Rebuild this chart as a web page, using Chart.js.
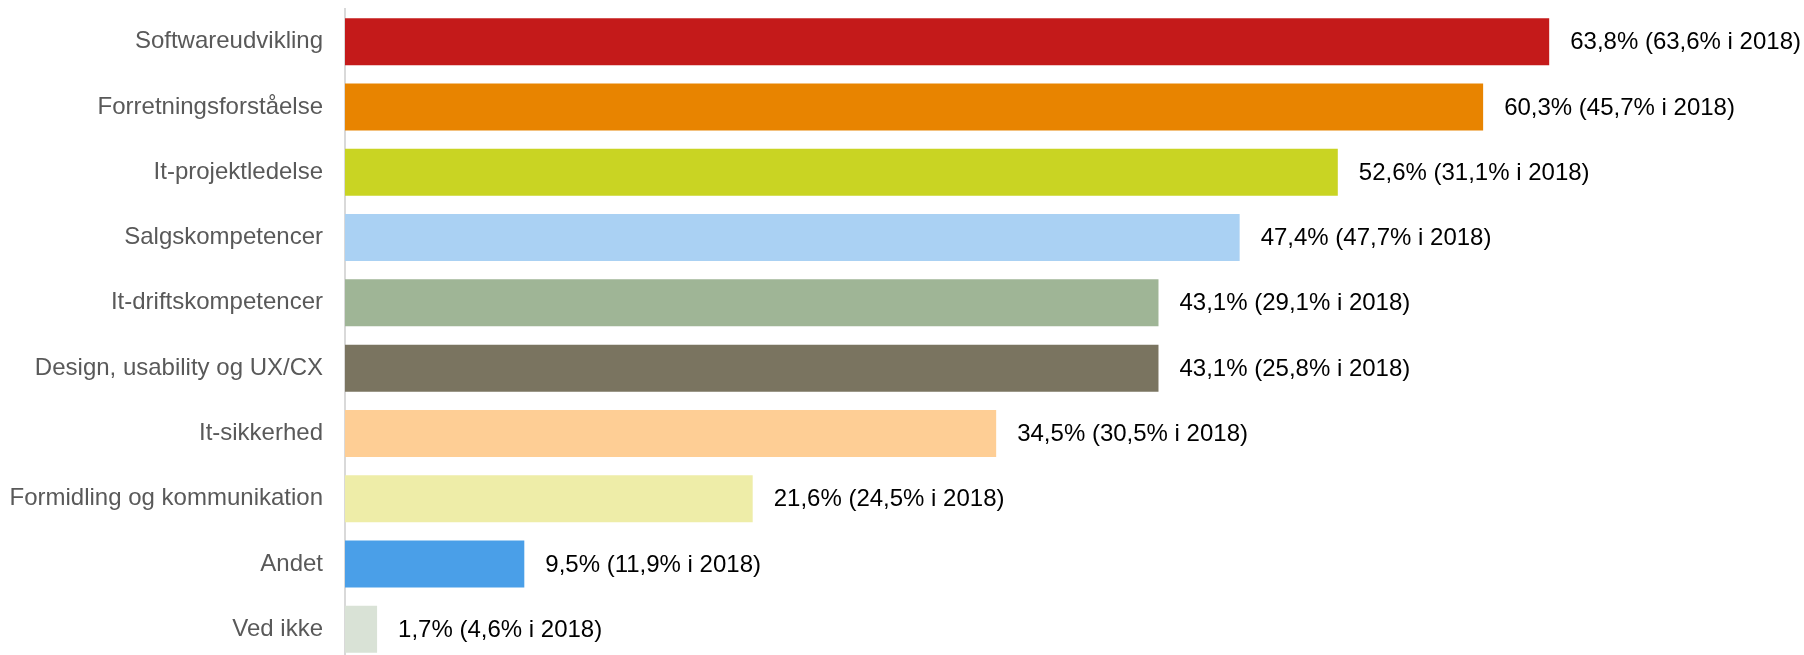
<!DOCTYPE html>
<html>
<head>
<meta charset="utf-8">
<script src="https://cdn.jsdelivr.net/npm/chart.js@4/dist/chart.umd.min.js"></script>
<style>
  html, body { margin: 0; padding: 0; background: #fff; overflow: hidden; }
  #wrap { width: 1804px; height: 655px; overflow: hidden; position: relative; }
  #chart { position: absolute; left: 0; top: 0; }
</style>
</head>
<body>
<div id="wrap"><canvas id="chart" width="1804" height="662"></canvas></div>
<script>
// Kategorier
const categories = [
  'Softwareudvikling',
  'Forretningsforståelse',
  'It-projektledelse',
  'Salgskompetencer',
  'It-driftskompetencer',
  'Design, usability og UX/CX',
  'It-sikkerhed',
  'Formidling og kommunikation',
  'Andet',
  'Ved ikke'
];

// Andel i 2019 (%)
const values = [63.8, 60.3, 52.6, 47.4, 43.1, 43.1, 34.5, 21.6, 9.5, 1.7];

// Andel i 2018 (%)
const values2018 = [63.6, 45.7, 31.1, 47.7, 29.1, 25.8, 30.5, 24.5, 11.9, 4.6];

const barColors = [
  '#C41A1A', '#E88400', '#C9D423', '#AAD1F3', '#9FB596',
  '#7A7460', '#FECE95', '#EEEDA8', '#4A9FE8', '#D9E2D6'
];

function fmt(v) {
  return v.toFixed(1).replace('.', ',') + '%';
}

// Plugin to write the value labels next to each bar
const valueLabels = {
  id: 'valueLabels',
  afterDatasetsDraw(chart) {
    const ctx = chart.ctx;
    const meta = chart.getDatasetMeta(0);
    ctx.save();
    ctx.font = '24px "Liberation Sans", Arial, sans-serif';
    ctx.fillStyle = '#000';
    ctx.textAlign = 'left';
    ctx.textBaseline = 'middle';
    meta.data.forEach((bar, i) => {
      const txt = fmt(values[i]) + ' (' + fmt(values2018[i]) + ' i 2018)';
      ctx.fillText(txt, bar.x + 21, bar.y + 1);
    });
    ctx.restore();
  }
};

const ctx = document.getElementById('chart').getContext('2d');
new Chart(ctx, {
  type: 'bar',
  data: {
    labels: categories,
    datasets: [{
      data: values,
      backgroundColor: barColors,
      borderWidth: 0,
      categoryPercentage: 0.72,
      barPercentage: 1
    }]
  },
  options: {
    indexAxis: 'y',
    responsive: false,
    animation: false,
    layout: { padding: { left: 0, right: 0, top: 9, bottom: 0 } },
    plugins: {
      legend: { display: false },
      tooltip: { enabled: false }
    },
    scales: {
      x: {
        display: false,
        min: 0,
        max: 77.3
      },
      y: {
        grid: { display: false, drawTicks: false },
        border: { display: true, color: '#D9D9D9', width: 2 },
        afterFit(scale) {
          scale.width = 345;
          scale.paddingTop = 0;
          scale.paddingBottom = 0;
        },
        ticks: {
          color: '#595959',
          padding: 22,
          font: { family: '"Liberation Sans", Arial, sans-serif', size: 24 }
        }
      }
    }
  },
  plugins: [valueLabels]
});
</script>
</body>
</html>
